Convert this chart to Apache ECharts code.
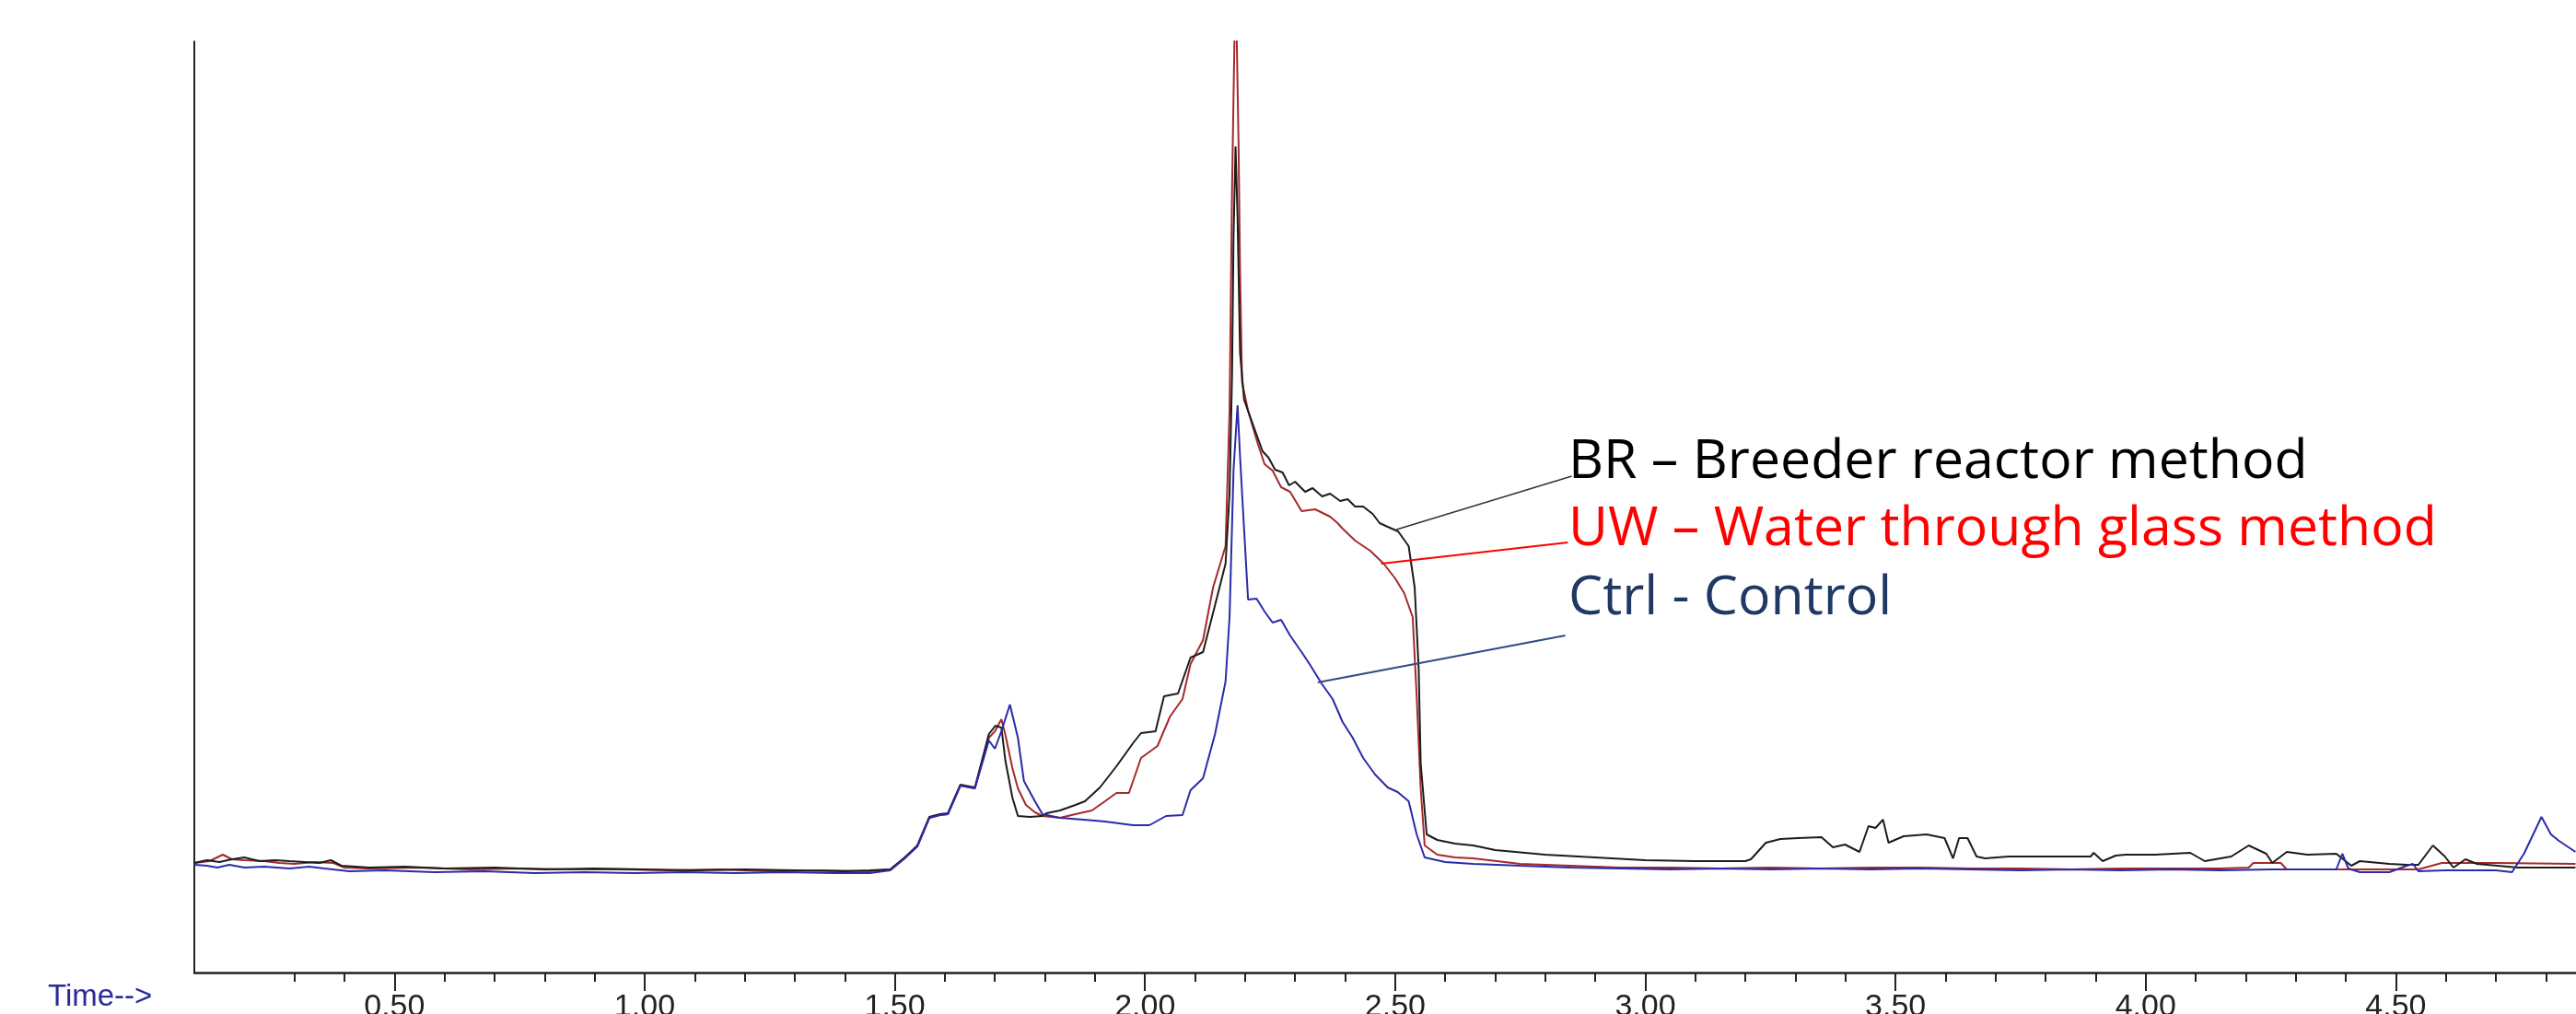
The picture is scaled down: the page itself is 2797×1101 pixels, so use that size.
<!DOCTYPE html>
<html>
<head>
<meta charset="utf-8">
<script src="https://cdn.jsdelivr.net/npm/echarts@6/dist/echarts.min.js"></script>
<style>
  body { margin: 0; background: #fff; }
  #main { width: 2797px; height: 1101px; }
</style>
</head>
<body>
<div id="main"></div>
<script>
// retention time (min) and abundance (arbitrary units)
var brTime = [0.10,0.125,0.15,0.175,0.20,0.23,0.262,0.29,0.32,0.35,0.373,0.394,0.45,0.52,0.60,0.70,0.80,0.90,1.00,1.10,1.20,1.30,1.40,1.45,
  1.491,1.52,1.545,1.569,1.59,1.606,1.631,1.66,1.688,1.701,1.713,1.721,1.735,1.746,1.77,1.795,1.803,1.83,1.861,1.88,1.91,1.943,1.976,1.992,2.021,2.038,2.066,2.091,2.116,2.14,2.161,
  2.169,2.174,2.177,2.181,2.185,2.19,2.198,2.223,2.235,2.247,2.26,2.275,2.288,2.30,2.32,2.335,2.354,2.37,2.39,2.405,2.42,2.436,2.455,2.469,2.485,2.506,2.527,2.539,2.547,2.551,2.563,2.584,2.62,2.656,
  2.70,2.80,2.90,3.00,3.10,3.20,3.211,3.241,3.27,3.305,3.352,3.375,3.399,3.428,3.446,3.46,3.475,3.486,3.516,3.562,3.598,3.615,3.627,3.644,3.662,3.679,3.726,3.796,3.843,3.89,3.896,3.914,3.94,3.96,
  4.019,4.089,4.118,4.171,4.206,4.241,4.253,4.282,4.323,4.381,4.411,4.428,4.487,4.522,4.545,4.574,4.598,4.615,4.639,4.662,4.744,4.859];
var brValue = [119,122,120,123,125,121,122,121,120,119,122,116,114,115,113,114,112,113,112,111,112,111,110,111,
  112,125,138,169,172,173,204,201,259,268,266,230,190,170,169,170,173,176,182,186,201,224,249,260,262,300,303,342,348,399,444,
  520,650,801,897,820,673,622,584,566,559,546,543,529,533,522,526,517,520,512,514,506,506,498,488,484,479,463,418,330,227,150,144,140,138,
  133,128,125,122,121,121,123,141,145,146,147,136,139,131,159,157,166,141,148,150,146,124,146,146,126,124,126,126,126,126,130,121,127,128,
  128,130,121,126,138,129,119,131,128,129,116,121,118,117,117,138,126,114,123,118,114,114];

var uwTime = [0.10,0.13,0.157,0.175,0.20,0.24,0.27,0.30,0.34,0.378,0.40,0.45,0.55,0.65,0.75,0.85,0.95,1.05,1.15,1.25,1.35,1.45,
  1.491,1.52,1.545,1.569,1.59,1.606,1.631,1.66,1.688,1.70,1.713,1.721,1.735,1.746,1.762,1.78,1.795,1.83,1.861,1.894,1.92,1.943,1.968,1.992,2.025,2.05,2.075,2.091,2.116,2.136,2.161,
  2.169,2.174,2.179,2.183,2.187,2.19,2.194,2.206,2.225,2.239,2.255,2.272,2.29,2.313,2.34,2.37,2.385,2.395,2.42,2.45,2.477,2.50,2.518,2.535,2.543,2.551,2.559,2.584,2.62,2.656,
  2.75,2.85,2.95,3.05,3.15,3.25,3.35,3.45,3.55,3.65,3.75,3.85,3.95,4.05,4.15,4.206,4.215,4.27,4.282,4.35,4.45,4.545,4.592,4.70,4.859];
var uwValue = [119,121,128,123,122,121,119,118,120,119,114,113,114,112,113,112,112,111,112,110,111,110,
  112,125,137,168,171,172,203,200,255,262,275,258,222,200,182,174,170,168,172,176,186,195,195,233,246,278,297,335,361,418,463,
  610,850,1020,1025,900,760,641,610,575,552,545,527,522,501,503,495,488,482,469,458,444,428,412,386,300,200,138,128,125,124,
  118,116,114,114,113,114,113,114,114,113,113,112,113,113,113,114,119,119,112,112,112,112,119,119,118];

var ctrlTime = [0.10,0.125,0.146,0.17,0.20,0.24,0.29,0.33,0.36,0.41,0.48,0.58,0.68,0.78,0.88,0.98,1.08,1.18,1.28,1.38,1.45,
  1.491,1.52,1.545,1.569,1.59,1.606,1.631,1.66,1.688,1.70,1.713,1.730,1.746,1.758,1.78,1.795,1.83,1.877,1.92,1.976,2.009,2.042,2.075,2.091,2.116,2.14,2.161,
  2.169,2.177,2.185,2.19,2.198,2.206,2.223,2.239,2.255,2.272,2.29,2.313,2.33,2.354,2.375,2.395,2.415,2.436,2.46,2.485,2.505,2.527,2.543,2.559,2.60,2.656,
  2.75,2.85,2.95,3.05,3.15,3.25,3.35,3.45,3.55,3.65,3.75,3.85,3.95,4.05,4.15,4.25,4.381,4.393,4.405,4.428,4.487,4.522,4.534,4.545,4.60,4.70,4.732,4.756,4.791,4.81,4.826,4.859];
var ctrlValue = [117,116,114,117,114,115,113,115,113,110,111,109,110,108,109,108,109,108,109,108,108,
  111,124,137,168,171,172,203,200,252,243,262,291,255,208,186,172,168,166,164,160,160,170,171,198,211,259,316,
  386,546,616,560,482,405,406,392,380,383,366,348,334,313,297,272,255,233,215,201,196,186,150,125,120,118,
  116,114,113,112,113,112,113,112,113,112,111,112,111,112,111,112,112,129,113,109,109,116,118,110,111,111,109,129,169,150,143,131];

var majorTicks = [0.5,1.0,1.5,2.0,2.5,3.0,3.5,4.0,4.5];
var minorTicks = [0.3,0.4,0.6,0.7,0.8,0.9,1.1,1.2,1.3,1.4,1.6,1.7,1.8,1.9,2.1,2.2,2.3,2.4,2.6,2.7,2.8,2.9,3.1,3.2,3.3,3.4,3.6,3.7,3.8,3.9,4.1,4.2,4.3,4.4,4.6,4.7,4.8];

// callout lines: [time, abundance] of text end and of curve end
var brCallout = [[2.853, 539], [2.5025, 481]];
var uwCallout = [[2.845, 467], [2.472, 444]];
var ctrlCallout = [[2.840, 366], [2.345, 315]];

function zip(t, v) {
  var out = [];
  for (var i = 0; i < t.length; i++) out.push([t[i], v[i]]);
  return out;
}

function callout(pts, color, width) {
  return {
    silent: true,
    symbol: ["none", "none"],
    label: { show: false },
    lineStyle: { color: color, width: width, type: "solid" },
    data: [[{ coord: pts[0] }, { coord: pts[1] }]]
  };
}

var labelFont = "59px 'Open Sans'";

var chart = echarts.init(document.getElementById("main"));
chart.setOption({
  animation: false,
  backgroundColor: "#fff",
  grid: { left: 211, right: 0, top: 45, bottom: 45, containLabel: false, outerBoundsMode: "none" },
  xAxis: [
    {
      type: "value",
      min: 0.1,
      max: 4.86,
      position: "bottom",
      axisLine: { show: true, onZero: false, lineStyle: { color: "#222", width: 2.5 } },
      axisTick: { show: true, customValues: majorTicks, length: 20, lineStyle: { color: "#222", width: 2 } },
      axisLabel: {
        customValues: majorTicks,
        formatter: function(v) { return v.toFixed(2); },
        fontFamily: "Liberation Sans",
        fontSize: 34,
        color: "#222",
        margin: 21
      },
      splitLine: { show: false }
    },
    {
      type: "value",
      min: 0.1,
      max: 4.86,
      position: "bottom",
      axisLine: { show: false },
      axisTick: { show: true, customValues: minorTicks, length: 10, lineStyle: { color: "#222", width: 2 } },
      axisLabel: { show: false },
      splitLine: { show: false }
    }
  ],
  yAxis: {
    type: "value",
    min: 0,
    max: 1011,
    axisLine: { show: true, lineStyle: { color: "#222", width: 2 } },
    axisTick: { show: false },
    axisLabel: { show: false },
    splitLine: { show: false }
  },
  graphic: [
    {
      type: "text", left: 52, top: 1066,
      style: { text: "Time-->", font: "33px 'Liberation Sans'", fill: "#2a2a9a" }
    },
    {
      type: "text", x: 1703, y: 502,
      style: { text: "BR – Breeder reactor method", font: labelFont, fill: "#000", verticalAlign: "middle" }
    },
    {
      type: "text", x: 1703, y: 575,
      style: { text: "UW – Water through glass method", font: labelFont, fill: "#ff0000", verticalAlign: "middle" }
    },
    {
      type: "text", x: 1703, y: 650,
      style: { text: "Ctrl - Control", font: labelFont, fill: "#1f3864", verticalAlign: "middle" }
    }
  ],
  series: [
    {
      name: "UW", type: "line", showSymbol: false, clip: true,
      data: zip(uwTime, uwValue),
      lineStyle: { color: "#a52a2a", width: 2 },
      markLine: callout(uwCallout, "#ff0000", 2)
    },
    {
      name: "BR", type: "line", showSymbol: false, clip: true,
      data: zip(brTime, brValue),
      lineStyle: { color: "#1c1c1c", width: 2 },
      markLine: callout(brCallout, "#333", 1.5)
    },
    {
      name: "Ctrl", type: "line", showSymbol: false, clip: true,
      data: zip(ctrlTime, ctrlValue),
      lineStyle: { color: "#2b2ba8", width: 2 },
      markLine: callout(ctrlCallout, "#2f4b85", 2)
    }
  ]
});
</script>
</body>
</html>
